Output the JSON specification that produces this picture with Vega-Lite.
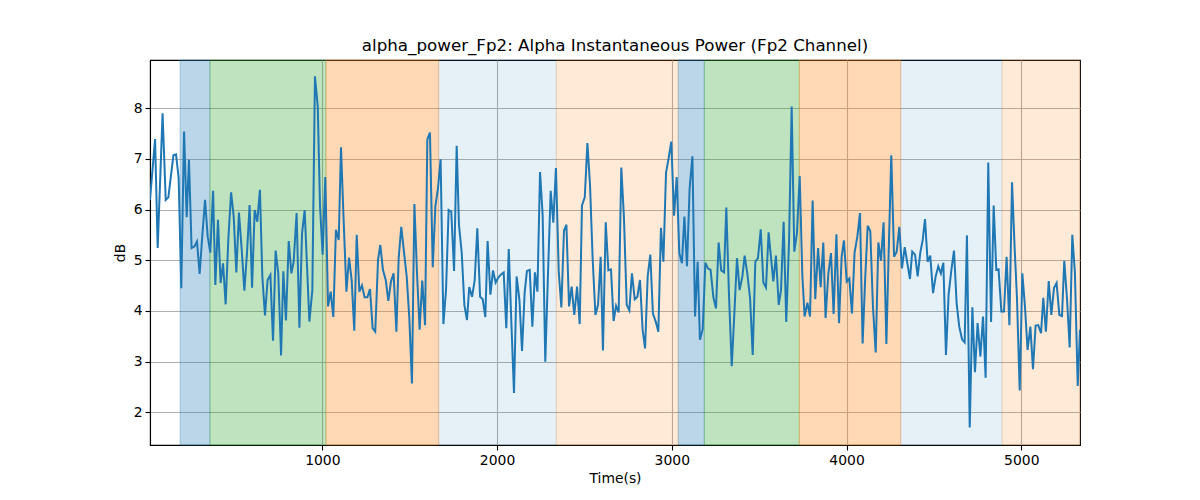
{
  "$schema": "https://vega.github.io/schema/vega-lite/v6.json",
  "width": 930,
  "height": 385,
  "autosize": {"type": "none"},
  "padding": {"left": 150, "top": 60, "right": 120, "bottom": 55},
  "background": "white",
  "config": {
    "font": "DejaVu Sans",
    "view": {"stroke": "black", "strokeWidth": 1.1},
    "axis": {
      "labelFont": "DejaVu Sans",
      "titleFont": "DejaVu Sans",
      "labelFontSize": 13.9,
      "titleFontSize": 13.9,
      "titleFontWeight": "normal",
      "labelColor": "black",
      "titleColor": "black",
      "tickColor": "black",
      "tickWidth": 1.1,
      "domainColor": "black",
      "domainWidth": 1.1,
      "tickSize": 5,
      "gridColor": "#b0b0b0",
      "gridWidth": 1.1,
      "labelPadding": 3
    }
  },
  "title": {
    "text": "alpha_power_Fp2: Alpha Instantaneous Power (Fp2 Channel)",
    "font": "DejaVu Sans",
    "fontSize": 16.7,
    "fontWeight": "normal",
    "color": "black",
    "offset": 5
  },
  "datasets": {
    "bands": [
      {"start": 186, "end": 357, "kind": "A"},
      {"start": 357, "end": 1021, "kind": "B"},
      {"start": 1021, "end": 1666, "kind": "C"},
      {"start": 1666, "end": 2339, "kind": "D"},
      {"start": 2339, "end": 3037, "kind": "E"},
      {"start": 3037, "end": 3186, "kind": "A"},
      {"start": 3186, "end": 3730, "kind": "B"},
      {"start": 3730, "end": 4310, "kind": "C"},
      {"start": 4310, "end": 4890, "kind": "D"},
      {"start": 4890, "end": 5336, "kind": "E"}
    ],
    "series": [
      {"t": 14, "v": 6.19}, {"t": 43, "v": 7.39}, {"t": 58, "v": 5.24}, {"t": 86, "v": 7.90}, {"t": 104, "v": 6.19},
      {"t": 119, "v": 6.24}, {"t": 148, "v": 7.07}, {"t": 163, "v": 7.09}, {"t": 178, "v": 6.62}, {"t": 193, "v": 4.45},
      {"t": 209, "v": 7.54}, {"t": 224, "v": 5.85}, {"t": 237, "v": 6.98}, {"t": 252, "v": 5.24}, {"t": 268, "v": 5.27},
      {"t": 283, "v": 5.37}, {"t": 298, "v": 4.73}, {"t": 313, "v": 5.47}, {"t": 329, "v": 6.19}, {"t": 344, "v": 5.47},
      {"t": 359, "v": 5.15}, {"t": 375, "v": 6.37}, {"t": 388, "v": 4.51}, {"t": 403, "v": 5.80}, {"t": 418, "v": 4.55},
      {"t": 432, "v": 4.94}, {"t": 447, "v": 4.13}, {"t": 462, "v": 5.40}, {"t": 478, "v": 6.34}, {"t": 493, "v": 5.86},
      {"t": 508, "v": 4.76}, {"t": 523, "v": 5.94}, {"t": 539, "v": 5.20}, {"t": 554, "v": 4.40}, {"t": 569, "v": 5.14},
      {"t": 584, "v": 6.09}, {"t": 598, "v": 4.46}, {"t": 613, "v": 5.99}, {"t": 628, "v": 5.76}, {"t": 643, "v": 6.39},
      {"t": 657, "v": 4.67}, {"t": 672, "v": 3.91}, {"t": 687, "v": 4.61}, {"t": 703, "v": 4.71}, {"t": 718, "v": 3.41},
      {"t": 733, "v": 5.19}, {"t": 748, "v": 4.74}, {"t": 764, "v": 3.12}, {"t": 777, "v": 4.78}, {"t": 792, "v": 3.81},
      {"t": 808, "v": 5.38}, {"t": 823, "v": 4.74}, {"t": 836, "v": 4.97}, {"t": 853, "v": 5.93}, {"t": 869, "v": 3.67},
      {"t": 884, "v": 5.53}, {"t": 899, "v": 5.99},
      {"t": 926, "v": 3.79}, {"t": 943, "v": 4.41}, {"t": 958, "v": 8.63}, {"t": 974, "v": 8.03}, {"t": 987, "v": 6.06},
      {"t": 1002, "v": 5.11}, {"t": 1017, "v": 6.64}, {"t": 1033, "v": 4.09}, {"t": 1048, "v": 4.38}, {"t": 1063, "v": 3.88},
      {"t": 1078, "v": 5.60}, {"t": 1094, "v": 5.40}, {"t": 1107, "v": 7.23}, {"t": 1122, "v": 5.80}, {"t": 1138, "v": 4.38},
      {"t": 1153, "v": 5.05}, {"t": 1168, "v": 4.61}, {"t": 1183, "v": 3.61}, {"t": 1197, "v": 5.50}, {"t": 1212, "v": 4.38},
      {"t": 1227, "v": 4.50}, {"t": 1242, "v": 4.27}, {"t": 1258, "v": 4.27}, {"t": 1273, "v": 4.43}, {"t": 1288, "v": 3.66},
      {"t": 1303, "v": 3.59}, {"t": 1319, "v": 5.01}, {"t": 1332, "v": 5.30}, {"t": 1347, "v": 4.81}, {"t": 1363, "v": 4.61},
      {"t": 1378, "v": 4.20}, {"t": 1393, "v": 4.58}, {"t": 1408, "v": 4.74}, {"t": 1424, "v": 3.59}, {"t": 1437, "v": 5.04},
      {"t": 1452, "v": 5.66}, {"t": 1468, "v": 5.14}, {"t": 1483, "v": 4.68}, {"t": 1498, "v": 3.86}, {"t": 1513, "v": 2.57},
      {"t": 1527, "v": 6.11}, {"t": 1542, "v": 4.74}, {"t": 1557, "v": 3.63}, {"t": 1572, "v": 4.60}, {"t": 1588, "v": 3.72},
      {"t": 1601, "v": 7.38}, {"t": 1616, "v": 7.52}, {"t": 1632, "v": 4.86}, {"t": 1647, "v": 6.06}, {"t": 1662, "v": 6.42},
      {"t": 1677, "v": 6.99}, {"t": 1693, "v": 3.74}, {"t": 1708, "v": 4.41}, {"t": 1723, "v": 5.99}, {"t": 1738, "v": 5.96},
      {"t": 1754, "v": 4.79}, {"t": 1769, "v": 7.26},
      {"t": 1782, "v": 5.70}, {"t": 1798, "v": 5.14}, {"t": 1813, "v": 4.12}, {"t": 1828, "v": 3.82}, {"t": 1841, "v": 4.47},
      {"t": 1857, "v": 4.28}, {"t": 1872, "v": 4.60}, {"t": 1887, "v": 5.63}, {"t": 1903, "v": 4.28}, {"t": 1918, "v": 4.23},
      {"t": 1933, "v": 3.88}, {"t": 1946, "v": 5.38}, {"t": 1962, "v": 4.32}, {"t": 1977, "v": 4.80}, {"t": 1992, "v": 4.56},
      {"t": 2007, "v": 4.66}, {"t": 2023, "v": 4.72}, {"t": 2038, "v": 4.76}, {"t": 2053, "v": 3.66}, {"t": 2067, "v": 5.22},
      {"t": 2082, "v": 3.76}, {"t": 2097, "v": 2.38}, {"t": 2112, "v": 4.68}, {"t": 2128, "v": 4.22}, {"t": 2143, "v": 3.21},
      {"t": 2158, "v": 4.36}, {"t": 2171, "v": 4.79}, {"t": 2187, "v": 4.81}, {"t": 2202, "v": 3.69}, {"t": 2217, "v": 4.76},
      {"t": 2231, "v": 4.38}, {"t": 2246, "v": 6.74}, {"t": 2261, "v": 5.89}, {"t": 2276, "v": 3.00}, {"t": 2292, "v": 4.78},
      {"t": 2307, "v": 6.37}, {"t": 2322, "v": 5.74}, {"t": 2337, "v": 6.82}, {"t": 2353, "v": 4.78}, {"t": 2368, "v": 4.07},
      {"t": 2383, "v": 5.58}, {"t": 2397, "v": 5.70}, {"t": 2412, "v": 4.09}, {"t": 2427, "v": 4.48}, {"t": 2442, "v": 3.92},
      {"t": 2458, "v": 4.48}, {"t": 2473, "v": 3.74}, {"t": 2486, "v": 6.08}, {"t": 2502, "v": 6.24}, {"t": 2517, "v": 7.31},
      {"t": 2532, "v": 6.49}, {"t": 2547, "v": 5.04}, {"t": 2563, "v": 3.92}, {"t": 2578, "v": 4.12}, {"t": 2593, "v": 5.07},
      {"t": 2606, "v": 3.22}, {"t": 2622, "v": 5.75}, {"t": 2637, "v": 4.80}, {"t": 2652, "v": 4.82}, {"t": 2667, "v": 3.80},
      {"t": 2681, "v": 4.10}, {"t": 2696, "v": 3.97}, {"t": 2711, "v": 6.83}, {"t": 2726, "v": 5.86}, {"t": 2742, "v": 4.12},
      {"t": 2757, "v": 4.01}, {"t": 2772, "v": 4.74}, {"t": 2788, "v": 4.23}, {"t": 2803, "v": 4.28}, {"t": 2818, "v": 4.61},
      {"t": 2833, "v": 3.63}, {"t": 2847, "v": 3.26}, {"t": 2862, "v": 4.68}, {"t": 2877, "v": 5.11}, {"t": 2892, "v": 3.95},
      {"t": 2908, "v": 3.79}, {"t": 2923, "v": 3.59}, {"t": 2938, "v": 5.64}, {"t": 2952, "v": 4.97}, {"t": 2967, "v": 6.73},
      {"t": 2982, "v": 7.01}, {"t": 2997, "v": 7.34}, {"t": 3013, "v": 5.88}, {"t": 3028, "v": 6.64}, {"t": 3043, "v": 5.14},
      {"t": 3058, "v": 4.94}, {"t": 3072, "v": 5.86}, {"t": 3087, "v": 4.88}, {"t": 3102, "v": 6.42}, {"t": 3118, "v": 7.05},
      {"t": 3133, "v": 3.89}, {"t": 3148, "v": 4.97}, {"t": 3161, "v": 3.43}, {"t": 3177, "v": 3.64}, {"t": 3192, "v": 4.95},
      {"t": 3207, "v": 4.84}, {"t": 3222, "v": 4.81}, {"t": 3238, "v": 4.27}, {"t": 3253, "v": 4.05}, {"t": 3268, "v": 5.35},
      {"t": 3283, "v": 4.80}, {"t": 3299, "v": 4.76}, {"t": 3312, "v": 6.04}, {"t": 3327, "v": 4.35}, {"t": 3343, "v": 2.91},
      {"t": 3358, "v": 3.95}, {"t": 3373, "v": 5.04}, {"t": 3388, "v": 4.41}, {"t": 3404, "v": 4.68}, {"t": 3417, "v": 5.09},
      {"t": 3432, "v": 4.74}, {"t": 3448, "v": 4.25}, {"t": 3463, "v": 3.13}, {"t": 3478, "v": 4.97}, {"t": 3493, "v": 5.04},
      {"t": 3509, "v": 5.61}, {"t": 3524, "v": 4.56}, {"t": 3539, "v": 4.46}, {"t": 3554, "v": 5.55},
      {"t": 3566, "v": 5.11}, {"t": 3581, "v": 4.58}, {"t": 3596, "v": 5.09}, {"t": 3612, "v": 4.12}, {"t": 3625, "v": 4.41},
      {"t": 3640, "v": 5.76}, {"t": 3655, "v": 3.78}, {"t": 3671, "v": 5.37}, {"t": 3686, "v": 8.03}, {"t": 3701, "v": 5.17},
      {"t": 3716, "v": 5.53}, {"t": 3732, "v": 6.66}, {"t": 3747, "v": 4.71}, {"t": 3760, "v": 3.89}, {"t": 3776, "v": 4.16},
      {"t": 3791, "v": 3.89}, {"t": 3806, "v": 6.18}, {"t": 3821, "v": 4.23}, {"t": 3837, "v": 5.24}, {"t": 3852, "v": 4.47},
      {"t": 3867, "v": 5.35}, {"t": 3880, "v": 3.86}, {"t": 3896, "v": 4.74}, {"t": 3911, "v": 5.14}, {"t": 3926, "v": 3.94},
      {"t": 3942, "v": 5.51}, {"t": 3957, "v": 3.76}, {"t": 3972, "v": 5.07}, {"t": 3985, "v": 5.39}, {"t": 4001, "v": 4.58},
      {"t": 4016, "v": 4.64}, {"t": 4031, "v": 3.95}, {"t": 4046, "v": 5.15}, {"t": 4062, "v": 5.47}, {"t": 4077, "v": 5.93},
      {"t": 4092, "v": 3.36}, {"t": 4106, "v": 4.58}, {"t": 4121, "v": 5.68}, {"t": 4136, "v": 5.57}, {"t": 4151, "v": 4.09},
      {"t": 4167, "v": 3.18}, {"t": 4182, "v": 5.35}, {"t": 4197, "v": 4.99}, {"t": 4212, "v": 5.75}, {"t": 4228, "v": 3.35},
      {"t": 4241, "v": 5.14}, {"t": 4256, "v": 7.07}, {"t": 4272, "v": 5.07}, {"t": 4287, "v": 5.17}, {"t": 4302, "v": 5.66},
      {"t": 4317, "v": 4.84}, {"t": 4333, "v": 5.26}, {"t": 4348, "v": 4.94}, {"t": 4363, "v": 4.63}, {"t": 4376, "v": 5.17},
      {"t": 4392, "v": 5.11}, {"t": 4407, "v": 4.68}, {"t": 4422, "v": 5.15}, {"t": 4436, "v": 5.40},
      {"t": 4449, "v": 5.81}, {"t": 4464, "v": 4.97}, {"t": 4479, "v": 5.09}, {"t": 4495, "v": 4.35}, {"t": 4510, "v": 4.68},
      {"t": 4525, "v": 4.88}, {"t": 4540, "v": 4.74}, {"t": 4554, "v": 4.95}, {"t": 4569, "v": 3.13}, {"t": 4584, "v": 4.32},
      {"t": 4600, "v": 4.81}, {"t": 4615, "v": 5.19}, {"t": 4630, "v": 4.15}, {"t": 4645, "v": 3.69}, {"t": 4661, "v": 3.44},
      {"t": 4676, "v": 3.38}, {"t": 4689, "v": 5.49}, {"t": 4705, "v": 1.70}, {"t": 4720, "v": 4.07}, {"t": 4735, "v": 2.79},
      {"t": 4750, "v": 3.76}, {"t": 4766, "v": 3.10}, {"t": 4781, "v": 3.89}, {"t": 4796, "v": 2.68}, {"t": 4811, "v": 6.93},
      {"t": 4827, "v": 3.78}, {"t": 4842, "v": 6.08}, {"t": 4857, "v": 4.81}, {"t": 4870, "v": 4.82}, {"t": 4886, "v": 3.99},
      {"t": 4901, "v": 3.99}, {"t": 4916, "v": 5.07}, {"t": 4932, "v": 3.72}, {"t": 4947, "v": 6.54}, {"t": 4962, "v": 5.24},
      {"t": 4975, "v": 4.28}, {"t": 4991, "v": 2.43}, {"t": 5006, "v": 4.74}, {"t": 5021, "v": 4.09}, {"t": 5036, "v": 3.23},
      {"t": 5052, "v": 3.69}, {"t": 5067, "v": 2.85}, {"t": 5082, "v": 3.71}, {"t": 5097, "v": 3.72}, {"t": 5113, "v": 3.56},
      {"t": 5126, "v": 4.26}, {"t": 5141, "v": 3.59}, {"t": 5157, "v": 4.59}, {"t": 5172, "v": 3.92}, {"t": 5187, "v": 4.45},
      {"t": 5202, "v": 4.55}, {"t": 5218, "v": 3.92}, {"t": 5233, "v": 3.90}, {"t": 5246, "v": 4.99}, {"t": 5262, "v": 4.22},
      {"t": 5277, "v": 3.28}, {"t": 5292, "v": 5.50}, {"t": 5307, "v": 4.74}, {"t": 5323, "v": 2.52}, {"t": 5336, "v": 3.63}
    ]
  },
  "layer": [
    {
      "data": {"name": "bands"},
      "mark": {"type": "rect", "strokeWidth": 1},
      "encoding": {
        "x": {"field": "start", "type": "quantitative", "scale": {"domain": [14, 5336], "nice": false, "zero": false},
          "axis": {"title": "Time(s)", "values": [1000, 2000, 3000, 4000, 5000], "format": "d", "grid": true, "titlePadding": 5}},
        "x2": {"field": "end"},
        "color": {
          "field": "kind", "type": "nominal", "legend": null,
          "scale": {"domain": ["A", "B", "C", "D", "E"], "range": ["rgba(31,119,180,0.3)", "rgba(44,160,44,0.3)", "rgba(255,127,14,0.3)", "rgba(31,119,180,0.11)", "rgba(255,127,14,0.16)"]}
        },
        "stroke": {
          "field": "kind", "type": "nominal", "legend": null,
          "scale": {"domain": ["A", "B", "C", "D", "E"], "range": ["rgba(31,119,180,0.3)", "rgba(44,160,44,0.3)", "rgba(255,127,14,0.3)", "rgba(31,119,180,0.11)", "rgba(255,127,14,0.16)"]}
        }
      }
    },
    {
      "data": {"name": "series"},
      "mark": {"type": "line", "color": "#1f77b4", "strokeWidth": 2, "clip": true},
      "encoding": {
        "x": {
          "field": "t", "type": "quantitative",
          "scale": {"domain": [14, 5336], "nice": false, "zero": false},
          "axis": {"title": "Time(s)", "values": [1000, 2000, 3000, 4000, 5000], "format": "d", "grid": true, "titlePadding": 5}
        },
        "y": {
          "field": "v", "type": "quantitative",
          "scale": {"domain": [1.355, 8.95], "nice": false, "zero": false},
          "axis": {"title": "dB", "values": [2, 3, 4, 5, 6, 7, 8], "grid": true, "titlePadding": 6}
        }
      }
    }
  ]
}
